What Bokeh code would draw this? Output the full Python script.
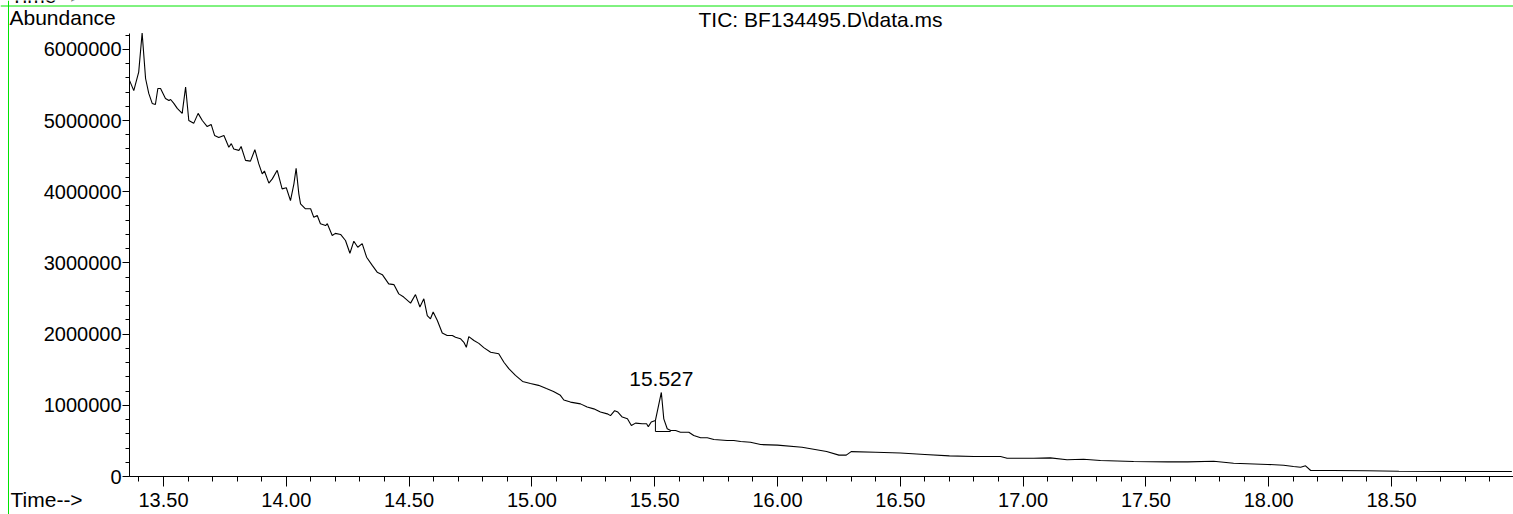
from bokeh.plotting import figure
from bokeh.models import Label, FixedTicker, NumeralTickFormatter, ColumnDataSource, Range1d, Span
from bokeh.embed import file_html
from bokeh.resources import INLINE
from bokeh.core.properties import value

# ---- data (retention time in minutes, total ion abundance) ----
time_min = [
    13.362, 13.379, 13.399, 13.413, 13.427, 13.440, 13.454, 13.467, 13.477, 13.488,
    13.508, 13.522, 13.529, 13.542, 13.556, 13.576, 13.590, 13.603, 13.623, 13.641,
    13.658, 13.678, 13.694, 13.708, 13.725, 13.746, 13.766, 13.776, 13.786, 13.807,
    13.816, 13.834, 13.854, 13.872, 13.888, 13.902, 13.911, 13.929, 13.943, 13.963,
    13.983, 14.000, 14.017, 14.031, 14.040, 14.051, 14.058, 14.078, 14.099, 14.112,
    14.126, 14.139, 14.160, 14.167, 14.187, 14.200, 14.221, 14.241, 14.259, 14.275,
    14.291, 14.309, 14.327, 14.350, 14.370, 14.391, 14.417, 14.438, 14.458, 14.478,
    14.506, 14.526, 14.544, 14.560, 14.574, 14.587, 14.598, 14.615, 14.635, 14.655,
    14.676, 14.689, 14.709, 14.723, 14.733, 14.743, 14.764, 14.784, 14.804, 14.832,
    14.865, 14.886, 14.906, 14.933, 14.962, 14.994, 15.027, 15.059, 15.088, 15.116,
    15.130, 15.157, 15.198, 15.225, 15.252, 15.279, 15.307, 15.320, 15.337, 15.350,
    15.368, 15.389, 15.405, 15.422, 15.449, 15.467, 15.474, 15.486, 15.503, 15.527,
    15.537, 15.551, 15.565, 15.585, 15.605, 15.639, 15.659, 15.687, 15.714, 15.741,
    15.795, 15.822, 15.850, 15.890, 15.931, 16.000, 16.100, 16.200, 16.250, 16.280,
    16.300, 16.400, 16.500, 16.600, 16.700, 16.800, 16.908, 16.935, 17.043, 17.111,
    17.179, 17.246, 17.315, 17.450, 17.589, 17.670, 17.776, 17.857, 17.996, 18.061,
    18.101, 18.130, 18.150, 18.171, 18.260, 18.400, 18.530, 18.740, 18.990,
]
abundance = [
    5560000, 5420000, 5680000, 6230000, 5590000, 5380000, 5240000, 5225000, 5450000, 5450000,
    5310000, 5280000, 5295000, 5240000, 5170000, 5100000, 5470000, 5000000, 4960000, 5100000,
    5000000, 4915000, 4945000, 4790000, 4760000, 4790000, 4625000, 4675000, 4600000, 4580000,
    4635000, 4440000, 4430000, 4590000, 4390000, 4250000, 4290000, 4120000, 4180000, 4300000,
    4040000, 4055000, 3875000, 4110000, 4330000, 3970000, 3830000, 3760000, 3760000, 3640000,
    3665000, 3550000, 3525000, 3550000, 3385000, 3415000, 3400000, 3315000, 3135000, 3305000,
    3220000, 3270000, 3080000, 2965000, 2870000, 2835000, 2705000, 2695000, 2565000, 2520000,
    2435000, 2555000, 2380000, 2495000, 2260000, 2215000, 2310000, 2190000, 2015000, 1980000,
    1980000, 1955000, 1935000, 1885000, 1815000, 1965000, 1910000, 1870000, 1810000, 1745000,
    1725000, 1605000, 1515000, 1420000, 1335000, 1305000, 1280000, 1235000, 1195000, 1140000,
    1075000, 1045000, 1020000, 975000, 950000, 905000, 880000, 855000, 925000, 905000,
    835000, 810000, 715000, 750000, 740000, 740000, 700000, 765000, 787000, 1180000,
    810000, 670000, 646000, 646000, 622000, 622000, 576000, 544000, 544000, 520000,
    506000, 506000, 492000, 482000, 449000, 440000, 410000, 350000, 300000, 300000,
    350000, 340000, 330000, 310000, 290000, 280000, 281000, 257000, 257000, 261000,
    235000, 243000, 225000, 211000, 206000, 206000, 215000, 187000, 169000, 159000,
    140000, 131000, 150000, 84000, 84000, 80000, 74000, 70000, 70000,
]

x_ticks = [13.5, 14.0, 14.5, 15.0, 15.5, 16.0, 16.5, 17.0, 17.5, 18.0, 18.5]
x_minor_ticks = [round(13.4 + 0.1 * i, 1) for i in range(57)]
y_ticks = [0, 1000000, 2000000, 3000000, 4000000, 5000000, 6000000]
y_minor_ticks = [200000 * i for i in range(32)]
x_axis_span = [13.362, 19.0]
y_axis_span = [0, 6220000]

peak_time = [15.527]
peak_abund = [1180000]
peak_text = ["15.527"]

integ_start = [15.503]
integ_end = [15.565]
integ_base = [632000]
integ_start_top = [787000]

title_text = "TIC: BF134495.D\\data.ms"
FONT = "Liberation Sans"

# ---- layout: the plotting frame fills the whole canvas, axes are pinned inside ----
W, H = 1513, 514
PX_PER_MIN = 245.6          # pixels per minute
PX_PER_COUNT = 71.2e-6      # pixels per abundance count
X_PIX_1350, Y_PIX_ZERO = 163, 476
TEXT_SHIFT = 8              # renderer places the alphabetic baseline this much lower


def xd(px):
    return 13.5 + (px - X_PIX_1350) / PX_PER_MIN


def yd(py):
    return (Y_PIX_ZERO - py) / PX_PER_COUNT


p = figure(width=W, height=H, output_backend="svg", toolbar_location=None,
           x_range=Range1d(xd(0), xd(W)), y_range=Range1d(yd(H), yd(0)),
           min_border_left=0, min_border_right=0, min_border_top=0, min_border_bottom=0)
p.title.visible = False
p.grid.visible = False
p.outline_line_color = None
p.background_fill_color = "white"
p.border_fill_color = "white"

# green frame lines of the original screen capture
GREEN = "#00e400"
p.add_layout(Span(location=8, location_units="canvas", dimension="height",
                  line_color=GREEN, line_width=1))
p.add_layout(Span(location=5.5, location_units="canvas", dimension="width",
                  line_color=GREEN, line_width=1))

src = ColumnDataSource(dict(t=time_min, a=abundance))
p.line("t", "a", source=src, line_color="black", line_width=1.1)

# integration baseline of the labelled peak
p.segment(x0=integ_start, y0=integ_base, x1=integ_end, y1=integ_base, line_color="black", line_width=1)
p.segment(x0=integ_start, y0=integ_base, x1=integ_start, y1=integ_start_top, line_color="black", line_width=1)

psrc = ColumnDataSource(dict(t=peak_time, a=peak_abund, s=peak_text))
p.text("t", "a", text="s", source=psrc, text_font=value(FONT), text_font_size="21px",
       text_align="center", text_baseline="alphabetic", y_offset=-5 - TEXT_SHIFT,
       text_color="black")

for ax in (p.xaxis[0], p.yaxis[0]):
    ax.axis_line_color = "black"
    ax.major_tick_line_color = "black"
    ax.minor_tick_line_color = "black"
    ax.major_tick_in = 0
    ax.minor_tick_in = 0
    ax.major_label_text_font = FONT
    ax.major_label_text_font_size = "20px"
    ax.major_label_text_color = "black"

p.xaxis.fixed_location = 0
p.xaxis.bounds = tuple(x_axis_span)
p.xaxis.ticker = FixedTicker(ticks=x_ticks, minor_ticks=x_minor_ticks)
p.xaxis.formatter = NumeralTickFormatter(format="0.00")
p.xaxis.major_tick_out = 10
p.xaxis.minor_tick_out = 5
p.xaxis.major_label_standoff = 6

p.yaxis.fixed_location = x_axis_span[0]
p.yaxis.bounds = tuple(y_axis_span)
p.yaxis.ticker = FixedTicker(ticks=y_ticks, minor_ticks=y_minor_ticks)
p.yaxis.formatter = NumeralTickFormatter(format="0")
p.yaxis.major_tick_out = 7
p.yaxis.minor_tick_out = 4
p.yaxis.major_label_standoff = 1


def add_text(px, py, text, align="left"):
    p.add_layout(Label(x=xd(px), y=yd(py - TEXT_SHIFT), text=text, text_font=FONT,
                       text_font_size="21px", text_align=align, text_baseline="alphabetic",
                       text_color="black"))


add_text(820, 27, title_text, "center")
add_text(9, 25, "Abundance")
add_text(10, 507, "Time-->")
add_text(10, 3, "Time-->")   # cut-off heading at the top edge of the capture

open("out.html", "w").write(file_html(p, INLINE))
